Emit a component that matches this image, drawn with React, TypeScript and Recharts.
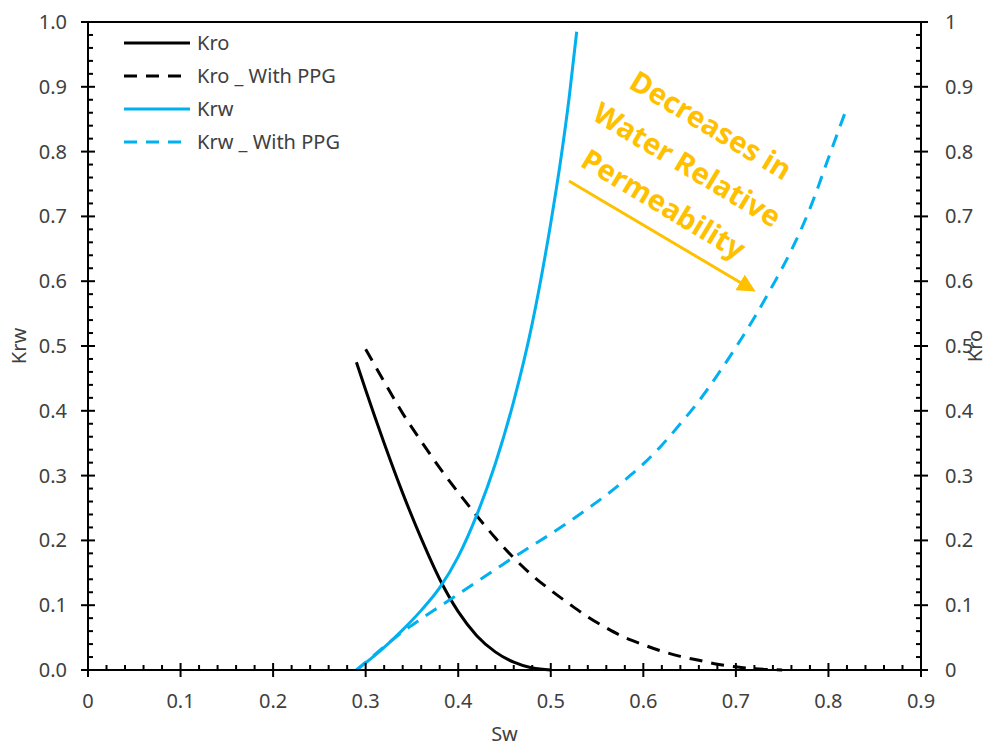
import { LineChart, Line, XAxis, YAxis, Legend, ReferenceLine } from "recharts";

// Sw values and relative permeability
const kroSw = [0.29, 0.3, 0.32, 0.34, 0.36, 0.38, 0.4, 0.42, 0.44, 0.46, 0.48, 0.5];
const kroVals = [0.475, 0.432, 0.35, 0.273, 0.203, 0.14, 0.09, 0.053, 0.028, 0.012, 0.003, 0];

const kroPpgSw = [0.3, 0.32, 0.34, 0.36, 0.38, 0.4, 0.42, 0.44, 0.46, 0.48, 0.5, 0.52, 0.54, 0.56, 0.58, 0.6, 0.62, 0.64, 0.66, 0.68, 0.7, 0.72, 0.74, 0.75];
const kroPpgVals = [0.495, 0.445, 0.396, 0.353, 0.312, 0.274, 0.238, 0.204, 0.173, 0.146, 0.123, 0.102, 0.082, 0.065, 0.05, 0.039, 0.029, 0.021, 0.015, 0.009, 0.005, 0.002, 0.0005, 0];

const krwSw = [0.29, 0.3, 0.32, 0.34, 0.36, 0.38, 0.4, 0.42, 0.44, 0.46, 0.48, 0.5, 0.51, 0.52, 0.528];
const krwVals = [0, 0.011, 0.035, 0.062, 0.092, 0.127, 0.175, 0.239, 0.318, 0.415, 0.535, 0.69, 0.78, 0.885, 0.985];

const krwPpgSw = [0.29, 0.3, 0.32, 0.34, 0.36, 0.38, 0.4, 0.42, 0.44, 0.46, 0.48, 0.5, 0.52, 0.54, 0.56, 0.58, 0.6, 0.62, 0.64, 0.66, 0.68, 0.7, 0.72, 0.74, 0.76, 0.78, 0.8, 0.82];
const krwPpgVals = [0, 0.012, 0.036, 0.059, 0.079, 0.098, 0.117, 0.136, 0.155, 0.174, 0.192, 0.21, 0.229, 0.249, 0.27, 0.293, 0.318, 0.347, 0.38, 0.415, 0.455, 0.498, 0.544, 0.594, 0.648, 0.712, 0.79, 0.868];

const xTicks = Array.from({ length: 46 }, (_, i) => Math.round(i * 2) / 100);
const yTicks = Array.from({ length: 51 }, (_, i) => Math.round(i * 2) / 100);

const annotationLines = ["Decreases in", "Water Relative", "Permeability"];

const zip = (xs: number[], ys: number[]) => xs.map((x, i) => ({ x, y: ys[i] }));

const BLUE = "#00B0F0";
const ORANGE = "#FFC000";
const TEXT = "#404040";
const FONT = "'Noto Sans', sans-serif";

const isMajor = (v: number) => Math.abs(v * 10 - Math.round(v * 10)) < 1e-6;

const XTick = (props: any) => {
  const { x, y, payload } = props;
  const v = payload.value;
  if (!isMajor(v)) return <line x1={x} x2={x} y1={y} y2={y - 5} stroke="#000" strokeWidth={2} />;
  return (
    <g>
      <line x1={x} x2={x} y1={y - 7} y2={y + 7} stroke="#000" strokeWidth={2} />
      <text x={x} y={y + 38} textAnchor="middle" fontSize={20} fontFamily={FONT} fill={TEXT}>
        {v === 0 ? "0" : v.toFixed(1)}
      </text>
    </g>
  );
};

const LeftTick = (props: any) => {
  const { x, y, payload } = props;
  const v = payload.value;
  if (!isMajor(v)) return <line x1={x} x2={x + 5} y1={y} y2={y} stroke="#000" strokeWidth={2} />;
  return (
    <g>
      <line x1={x - 7} x2={x + 7} y1={y} y2={y} stroke="#000" strokeWidth={2} />
      <text x={x - 21} y={y + 7} textAnchor="end" fontSize={20} fontFamily={FONT} fill={TEXT}>
        {v.toFixed(1)}
      </text>
    </g>
  );
};

const RightTick = (props: any) => {
  const { x, y, payload } = props;
  const v = payload.value;
  if (!isMajor(v)) return <line x1={x} x2={x - 5} y1={y} y2={y} stroke="#000" strokeWidth={2} />;
  const label = v === 0 ? "0" : v === 1 ? "1" : v.toFixed(1);
  return (
    <g>
      <line x1={x - 7} x2={x + 7} y1={y} y2={y} stroke="#000" strokeWidth={2} />
      <text x={x + 24} y={y + 7} textAnchor="start" fontSize={20} fontFamily={FONT} fill={TEXT}>
        {label}
      </text>
    </g>
  );
};

const LegendBox = (props: any) => {
  const { payload } = props;
  return (
    <svg width={260} height={150} style={{ overflow: "visible", display: "block" }}>
      {(payload || []).map((p: any, i: number) => {
        const y = 12 + i * 33;
        return (
          <g key={p.value}>
            <line
              x1={4}
              x2={70}
              y1={y}
              y2={y}
              stroke={p.color}
              strokeWidth={3}
              strokeDasharray={p.payload?.strokeDasharray}
            />
            <text x={77} y={y + 7} fontSize={20} fontFamily={FONT} fill={TEXT}>
              {p.value}
            </text>
          </g>
        );
      })}
    </svg>
  );
};

const axisTitle = (text: string, dx: number) => (p: any) => {
  const vb = p.viewBox;
  const cx = vb.x + dx;
  const cy = vb.y + vb.height / 2;
  return (
    <text
      x={cx}
      y={cy}
      transform={`rotate(-90 ${cx} ${cy})`}
      textAnchor="middle"
      dominantBaseline="central"
      fontSize={20}
      fontFamily={FONT}
      fill={TEXT}
    >
      {text}
    </text>
  );
};

export default function App() {
  return (
    <div style={{ position: "absolute", left: 0, top: 0, width: 992, height: 746, background: "#fff" }}>
      <LineChart width={992} height={746} margin={{ top: 22, right: 0, bottom: 0, left: 0 }}>
        <XAxis
          dataKey="x"
          type="number"
          domain={[0, 0.9]}
          ticks={xTicks}
          interval={0}
          height={76}
          tickSize={0}
          tickMargin={0}
          tickLine={false}
          tick={<XTick />}
          axisLine={{ stroke: "#000", strokeWidth: 2 }}
          label={{ value: "Sw", position: "insideBottom", offset: 5, fontSize: 20, fontFamily: FONT, fill: TEXT }}
        />
        <YAxis
          yAxisId="left"
          type="number"
          domain={[0, 1]}
          ticks={yTicks}
          interval={0}
          width={88}
          tickSize={0}
          tickMargin={0}
          tickLine={false}
          tick={<LeftTick />}
          axisLine={{ stroke: "#000", strokeWidth: 2 }}
          label={{ content: axisTitle("Krw", 18) }}
        />
        <YAxis
          yAxisId="right"
          orientation="right"
          type="number"
          domain={[0, 1]}
          ticks={yTicks}
          interval={0}
          width={71}
          tickSize={0}
          tickMargin={0}
          tickLine={false}
          tick={<RightTick />}
          axisLine={{ stroke: "#000", strokeWidth: 2 }}
          label={{ content: axisTitle("Kro", 53) }}
        />
        <ReferenceLine yAxisId="left" y={1} stroke="#000" strokeWidth={2} />
        <Legend
          layout="vertical"
          align="center"
          verticalAlign="middle"
          content={<LegendBox />}
          wrapperStyle={{ top: 31, left: 120, width: 260, height: 150 }}
        />
        <Line
          name="Kro"
          data={zip(kroSw, kroVals)}
          dataKey="y"
          yAxisId="right"
          type="monotone"
          stroke="#000"
          strokeWidth={3}
          dot={false}
          isAnimationActive={false}
        />
        <Line
          name="Kro _ With PPG"
          data={zip(kroPpgSw, kroPpgVals)}
          dataKey="y"
          yAxisId="right"
          type="monotone"
          stroke="#000"
          strokeWidth={3}
          strokeDasharray="13 9"
          dot={false}
          isAnimationActive={false}
        />
        <Line
          name="Krw"
          data={zip(krwSw, krwVals)}
          dataKey="y"
          yAxisId="left"
          type="monotone"
          stroke={BLUE}
          strokeWidth={3}
          dot={false}
          isAnimationActive={false}
        />
        <Line
          name="Krw _ With PPG"
          data={zip(krwPpgSw, krwPpgVals)}
          dataKey="y"
          yAxisId="left"
          type="monotone"
          stroke={BLUE}
          strokeWidth={3}
          strokeDasharray="13 9"
          dot={false}
          isAnimationActive={false}
        />
      </LineChart>
      <svg width={992} height={746} style={{ position: "absolute", left: 0, top: 0, pointerEvents: "none" }}>
        <defs>
          <marker id="arrowHead" markerWidth={6} markerHeight={6} refX={5} refY={3} orient="auto" markerUnits="strokeWidth">
            <path d="M0,0 L6,3 L0,6 Z" fill={ORANGE} />
          </marker>
        </defs>
        <g transform="translate(687 165) rotate(31)">
          {annotationLines.map((t, i) => (
            <text
              key={t}
              x={0}
              y={(i - 1) * 46 + 10}
              textAnchor="middle"
              fontSize={29}
              fontWeight="bold"
              fontFamily={FONT}
              fill={ORANGE}
            >
              {t}
            </text>
          ))}
        </g>
        <line x1={569} y1={181} x2={753} y2={290} stroke={ORANGE} strokeWidth={3} markerEnd="url(#arrowHead)" />
      </svg>
    </div>
  );
}
